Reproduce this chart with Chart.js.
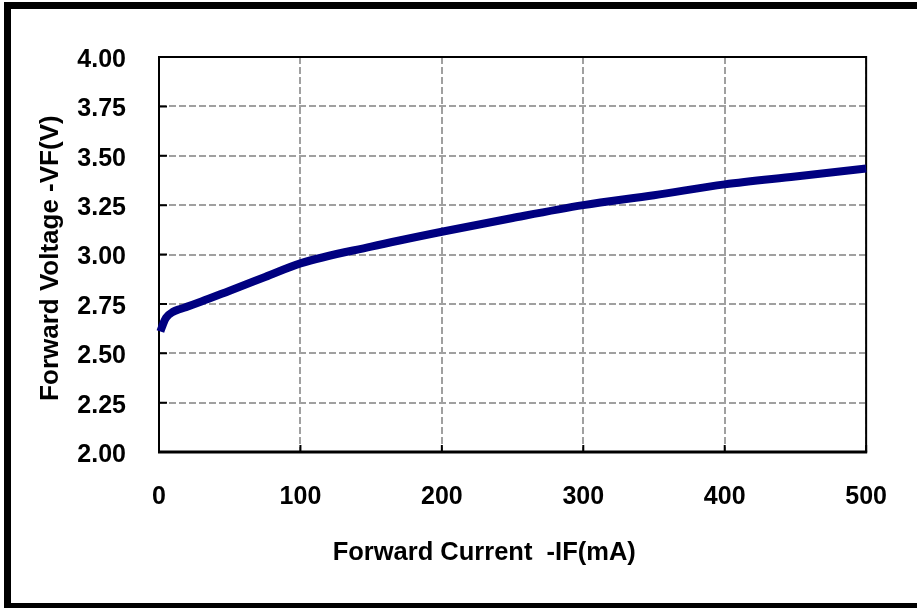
<!DOCTYPE html>
<html><head><meta charset="utf-8">
<script src="https://cdn.jsdelivr.net/npm/chart.js@4/dist/chart.umd.min.js"></script>
<style>
html,body{margin:0;padding:0;background:#fff;overflow:hidden}
#wrap{position:relative;width:917px;height:608px;overflow:hidden;background:#fff}
#frame{position:absolute;left:4px;top:2px;width:960px;height:608px;border:7px solid #000;box-sizing:border-box}
canvas{position:absolute;left:0;top:0}
</style></head><body>
<div id="wrap"><canvas id="c" width="917" height="608"></canvas><div id="frame"></div></div>
<script>
// Forward current (mA) vs forward voltage (V)
const current = [1, 3, 5, 10, 15, 20, 30, 50, 75, 100, 150, 200, 250, 300, 350, 400, 450, 500];
const voltage = [2.61, 2.65, 2.68, 2.71, 2.724, 2.736, 2.762, 2.817, 2.886, 2.955, 3.04, 3.115, 3.185, 3.25, 3.30, 3.355, 3.395, 3.435];
const xTicks = [0, 100, 200, 300, 400, 500];
const yTicks = [2.00, 2.25, 2.50, 2.75, 3.00, 3.25, 3.50, 3.75, 4.00];
const xTitle = 'Forward Current  -IF(mA)        ';
const yTitle = 'Forward Voltage -VF(V) ';

const FONT = "'Liberation Sans', Arial, sans-serif";

const framePlugin = {
  id: 'plotFrame',
  beforeDatasetsDraw(chart) {
    const {ctx, chartArea: a, scales} = chart;
    ctx.save();
    ctx.strokeStyle = '#000';
    ctx.lineWidth = 2;
    ctx.setLineDash([]);
    ctx.beginPath();
    xTicks.forEach(v => {
      const px = scales.x.getPixelForValue(v);
      ctx.moveTo(px, a.bottom); ctx.lineTo(px, a.bottom - 7);
    });
    yTicks.forEach(v => {
      const py = scales.y.getPixelForValue(v);
      ctx.moveTo(a.left, py); ctx.lineTo(a.left + 8, py);
    });
    ctx.stroke();
    ctx.lineWidth = 2;
    ctx.strokeRect(a.left, a.top, a.right - a.left, a.bottom - a.top);
    ctx.lineWidth = 3;
    ctx.beginPath();
    ctx.moveTo(a.left - 1, a.bottom); ctx.lineTo(a.right + 1, a.bottom);
    ctx.stroke();
    ctx.restore();
  }
};

new Chart(document.getElementById('c'), {
  type: 'line',
  data: {
    datasets: [{
      data: current.map((c, i) => ({x: c, y: voltage[i]})),
      borderColor: '#000080',
      borderWidth: 8,
      pointRadius: 0,
      fill: false,
      cubicInterpolationMode: 'monotone',
      borderCapStyle: 'butt',
      clip: false
    }]
  },
  options: {
    responsive: false,
    animation: false,
    devicePixelRatio: 1,
    layout: {padding: {top: 57, right: 48, left: 0, bottom: 0}},
    plugins: {legend: {display: false}, tooltip: {enabled: false}},
    scales: {
      x: {
        type: 'linear', min: 0, max: 500,
        afterBuildTicks: s => { s.ticks = xTicks.map(v => ({value: v})); },
        afterFit: s => { s.height = 156; },
        grid: {color: '#a0a0a0', lineWidth: 2, drawTicks: false},
        border: {display: false, dash: [7, 3]},
        ticks: {color: '#000', padding: 30, font: {family: FONT, size: 25, weight: 'bold'}, callback: v => String(v)},
        title: {display: true, text: xTitle, color: '#000', padding: {top: 0, bottom: 40}, font: {family: FONT, size: 25.5, weight: 'bold'}}
      },
      y: {
        type: 'linear', min: 2, max: 4,
        afterBuildTicks: s => { s.ticks = yTicks.map(v => ({value: v})); },
        afterFit: s => { s.width = 159; },
        grid: {color: '#a0a0a0', lineWidth: 2, drawTicks: false},
        border: {display: false, dash: [7, 3]},
        ticks: {color: '#000', padding: 33, labelOffset: 3, font: {family: FONT, size: 25, weight: 'bold'}, callback: v => Number(v).toFixed(2)},
        title: {display: true, text: yTitle, color: '#000', padding: {top: 35, bottom: 0}, font: {family: FONT, size: 26, weight: 'bold'}}
      }
    }
  },
  plugins: [framePlugin]
});
</script>
</body></html>
